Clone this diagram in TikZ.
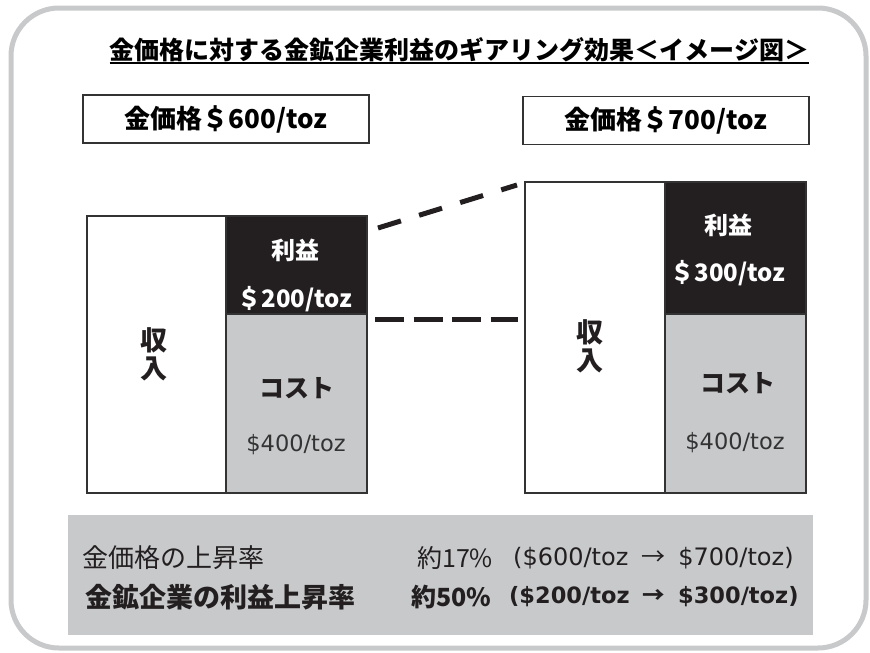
\documentclass[tikz,border=0pt]{standalone}
\usepackage{fontspec}
\setmainfont{Noto Sans CJK JP}
\newfontfamily\jpfont{Noto Sans CJK JP}
\newfontfamily\latinfont{DejaVu Sans}
\definecolor{framegray}{HTML}{C8C9CA}
\definecolor{panelgray}{HTML}{C8C9CB}
\definecolor{profitblack}{HTML}{231F20}
\definecolor{linegray}{HTML}{333333}
\tikzset{
  pricebox/.style={draw=linegray, line width=1.2pt, minimum width=286pt, minimum height=48pt, inner sep=0pt, font=\bfseries\fontsize{26}{28}\selectfont},
  barbox/.style={draw=linegray, line width=1.2pt, inner sep=0pt},
  whitelabel/.style={text=white, font=\bfseries\fontsize{24}{26}\selectfont},
  blacklabel/.style={text=profitblack, font=\bfseries\fontsize{25}{28}\selectfont},
  costlabel/.style={text=linegray, font=\latinfont\fontsize{22.5}{26}\selectfont},
  rowlabel/.style={anchor=west, inner sep=0pt, text=profitblack},
  gearline/.style={line width=5pt, profitblack}
}
\begin{document}
\begin{tikzpicture}[x=1pt, y=-1pt]
    \useasboundingbox (0,0) rectangle (870,653);
    \draw[line width=5pt, framegray, rounded corners=48pt] (11,8) rectangle (866,648);
    % title
    \node[inner sep=0pt, font=\bfseries\fontsize{25}{28}\selectfont] (title) at (459.5,50) {金価格に対する金鉱企業利益のギアリング効果＜イメージ図＞};
    \draw[line width=1.8pt] ([yshift=-3.5pt]title.base west) -- ([yshift=-3.5pt]title.base east);
    % price boxes
    \node[pricebox] (priceL) at (226,119) {金価格＄600/toz};
    \node[pricebox] (priceR) at (666,120.5) {金価格＄700/toz};
    % bar at $600/toz
    \node[barbox, minimum width=139pt, minimum height=277pt] (incomeL) at (156.5,354.5) {};
    \node[barbox, fill=profitblack, minimum width=141pt, minimum height=98pt] (profitL) at (296.5,265) {};
    \node[barbox, fill=panelgray, minimum width=141pt, minimum height=179pt] (costL) at (296.5,403.5) {};
    \node[blacklabel, align=center, font=\bfseries\fontsize{27}{28}\selectfont] (incomeLtxt) at (154,354) {収\\入};
    \node[whitelabel] (profitLtxt) at (295,250) {利益};
    \node[whitelabel] (profitLval) at (295,299) {＄200/toz};
    \node[blacklabel] (costLtxt) at (297,388) {コスト};
    \node[costlabel] (costLval) at (296,445) {\$400/toz};
    % bar at $700/toz
    \node[barbox, minimum width=140pt, minimum height=311pt] (incomeR) at (595,337.5) {};
    \node[barbox, fill=profitblack, minimum width=141pt, minimum height=132pt] (profitR) at (735.5,248) {};
    \node[barbox, fill=panelgray, minimum width=141pt, minimum height=179pt] (costR) at (735.5,403.5) {};
    \node[blacklabel, align=center, font=\bfseries\fontsize{27}{28}\selectfont] (incomeRtxt) at (590,346) {収\\入};
    \node[whitelabel] (profitRtxt) at (728,225) {利益};
    \node[whitelabel] (profitRval) at (728,273) {＄300/toz};
    \node[blacklabel] (costRtxt) at (738,383) {コスト};
    \node[costlabel] (costRval) at (735,443) {\$400/toz};
    % dashed guides
    \coordinate (topL) at (378,228);
    \coordinate (topR) at (517,185);
    \coordinate (midL) at (375,319);
    \coordinate (midR) at (518,319);
    \draw[gearline, dash pattern=on 24pt off 19pt] (topL) -- (topR);
    \draw[gearline, dash pattern=on 29pt off 9.5pt] (midL) -- (midR);
    % summary panel
    \node[fill=panelgray, minimum width=745pt, minimum height=120pt, inner sep=0pt] (panel) at (440.5,575) {};
    \node[rowlabel, font=\fontsize{26}{28}\selectfont] (goldrate) at (82,558) {金価格の上昇率};
    \node[rowlabel, font=\fontsize{25}{28}\selectfont] (goldpct) at (417,558) {約17\%};
    \node[rowlabel, font=\latinfont\fontsize{24}{28}\selectfont] (goldrange) at (513,558) {(\$600/toz\hspace{13pt}{\jpfont →}\hspace{13pt}\$700/toz)};
    \node[rowlabel, font=\bfseries\fontsize{27}{28}\selectfont] (minerate) at (85,597) {金鉱企業の利益上昇率};
    \node[rowlabel, font=\bfseries\fontsize{25}{28}\selectfont] (minepct) at (411,597) {約50\%};
    \node[rowlabel, font=\latinfont\bfseries\fontsize{22.5}{28}\selectfont] (minerange) at (509,597) {(\$200/toz\hspace{13pt}{\jpfont →}\hspace{13pt}\$300/toz)};
\end{tikzpicture}
\end{document}
